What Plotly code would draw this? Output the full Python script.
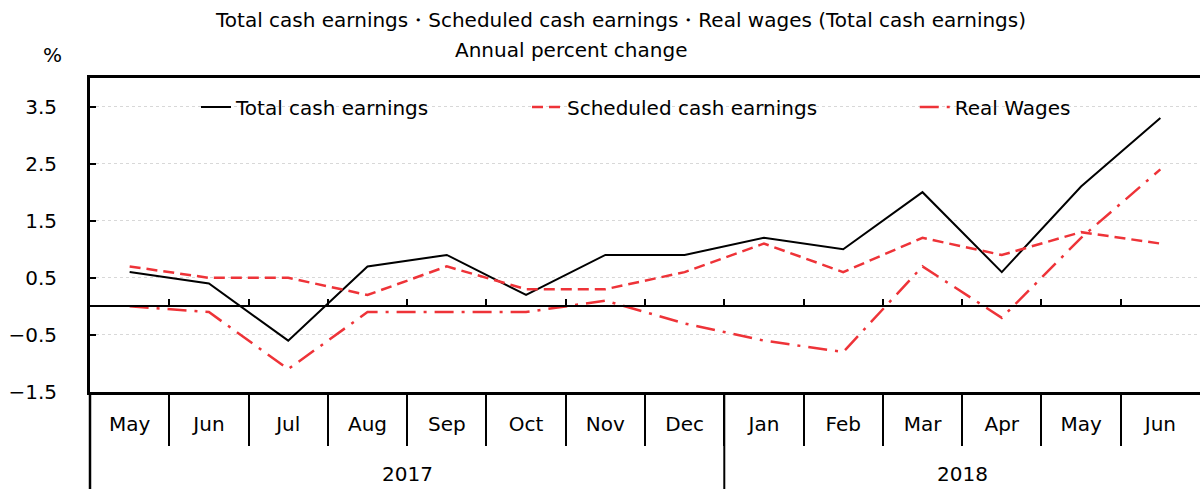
import plotly.graph_objects as go

months = ["May", "Jun", "Jul", "Aug", "Sep", "Oct", "Nov", "Dec",
          "Jan", "Feb", "Mar", "Apr", "May", "Jun"]
years = ["2017", "2018"]
year_centers = [3.5, 10.5]
year_split = 7.5

total_cash = [0.6, 0.4, -0.6, 0.7, 0.9, 0.2, 0.9, 0.9, 1.2, 1.0, 2.0, 0.6, 2.1, 3.3]
scheduled_cash = [0.7, 0.5, 0.5, 0.2, 0.7, 0.3, 0.3, 0.6, 1.1, 0.6, 1.2, 0.9, 1.3, 1.1]
real_wages = [0.0, -0.1, -1.1, -0.1, -0.1, -0.1, 0.1, -0.3, -0.6, -0.8, 0.7, -0.2, 1.2, 2.4]

y_ticks = [-1.5, -0.5, 0.5, 1.5, 2.5, 3.5]
y_range = [-1.5, 4.0]

FONT = "DejaVu Sans"
FS = 20
RED = "#EE3338"
xs = list(range(len(months)))
bounds = [i + 0.5 for i in range(len(months) - 1)]

fig = go.Figure()
fig.add_trace(go.Scatter(x=xs, y=total_cash, mode="lines", name="Total cash earnings",
                         line=dict(color="black", width=2), legend="legend"))
fig.add_trace(go.Scatter(x=xs, y=scheduled_cash, mode="lines", name="Scheduled cash earnings",
                         line=dict(color=RED, width=2.5, dash="11px,6px"), legend="legend2"))
fig.add_trace(go.Scatter(x=xs, y=real_wages, mode="lines", name="Real Wages",
                         line=dict(color=RED, width=2.5, dash="19px,8px,3px,8px"), legend="legend3"))
# empty trace to register the zero-line axis
fig.add_trace(go.Scatter(x=[], y=[], xaxis="x2", yaxis="y", showlegend=False, hoverinfo="skip"))

zero_pos = (0 - y_range[0]) / (y_range[1] - y_range[0])

fig.update_layout(
    width=1200, height=489,
    margin=dict(l=90, r=0, t=78, b=97),
    plot_bgcolor="white", paper_bgcolor="white",
    font=dict(family=FONT, size=FS, color="black"),
    xaxis=dict(range=[-0.5, len(months) - 0.5], tickmode="array", tickvals=xs, ticktext=months,
               ticks="", showgrid=False, zeroline=False, showline=True, linecolor="black",
               linewidth=2.5, mirror=True, ticklabelstandoff=12,
               minor=dict(tickmode="array", tickvals=bounds, ticks="outside", ticklen=51,
                          tickwidth=2, tickcolor="black", showgrid=False),
               tickfont=dict(size=FS)),
    xaxis2=dict(range=[-0.5, len(months) - 0.5], overlaying="x", anchor="free", position=zero_pos,
                showline=True, linecolor="black", linewidth=2, tickmode="array", tickvals=bounds,
                ticks="inside", ticklen=6, tickwidth=2, tickcolor="black", showticklabels=False,
                showgrid=False, zeroline=False),
    yaxis=dict(range=y_range, tickmode="array", tickvals=y_ticks,
               ticktext=[f"{v:.1f}".replace("-", "\u2212") for v in y_ticks],
               showgrid=True, gridcolor="#d8d8d8", gridwidth=1, griddash="dot",
               zeroline=False, showline=True, linecolor="black", linewidth=3,
               ticks="inside", ticklen=6, tickwidth=2, tickcolor="black",
               ticklabelstandoff=26, tickfont=dict(size=FS)),
    legend=dict(orientation="h", x=0.0955, y=0.908, xanchor="left", yanchor="middle",
                bgcolor="rgba(0,0,0,0)", font=dict(size=FS)),
    legend2=dict(orientation="h", x=0.3937, y=0.908, xanchor="left", yanchor="middle",
                 bgcolor="rgba(0,0,0,0)", font=dict(size=FS)),
    legend3=dict(orientation="h", x=0.743, y=0.908, xanchor="left", yanchor="middle",
                 bgcolor="rgba(0,0,0,0)", font=dict(size=FS)),
    showlegend=True,
)

# year separator and left axis extension below the category axis
fig.add_shape(type="line", xref="x", yref="paper", x0=year_split, x1=year_split, y0=0, y1=-0.32,
              line=dict(color="black", width=2))
fig.add_shape(type="line", xref="paper", yref="paper", x0=0, x1=0, y0=0, y1=-0.32,
              line=dict(color="black", width=2.5))

for yr, c in zip(years, year_centers):
    fig.add_annotation(x=c, xref="x", y=-0.261, yref="paper", text=yr, showarrow=False,
                       font=dict(size=FS), yanchor="middle", xanchor="center")

fig.add_annotation(x=-0.034, xref="paper", y=1.073, yref="paper", text="%", showarrow=False,
                   font=dict(size=FS), yanchor="middle", xanchor="center")
fig.add_annotation(x=0.478, xref="paper", y=1.185, yref="paper",
                   text="Total cash earnings\u30fbScheduled cash earnings\u30fbReal wages (Total cash earnings)",
                   showarrow=False, font=dict(size=FS), yanchor="middle", xanchor="center")
fig.add_annotation(x=0.433, xref="paper", y=1.089, yref="paper", text="Annual percent change",
                   showarrow=False, font=dict(size=FS), yanchor="middle", xanchor="center")

fig.write_html("out.html", config={"displayModeBar": False},
               post_script="document.body.style.margin='0';document.body.style.overflow='hidden';")
